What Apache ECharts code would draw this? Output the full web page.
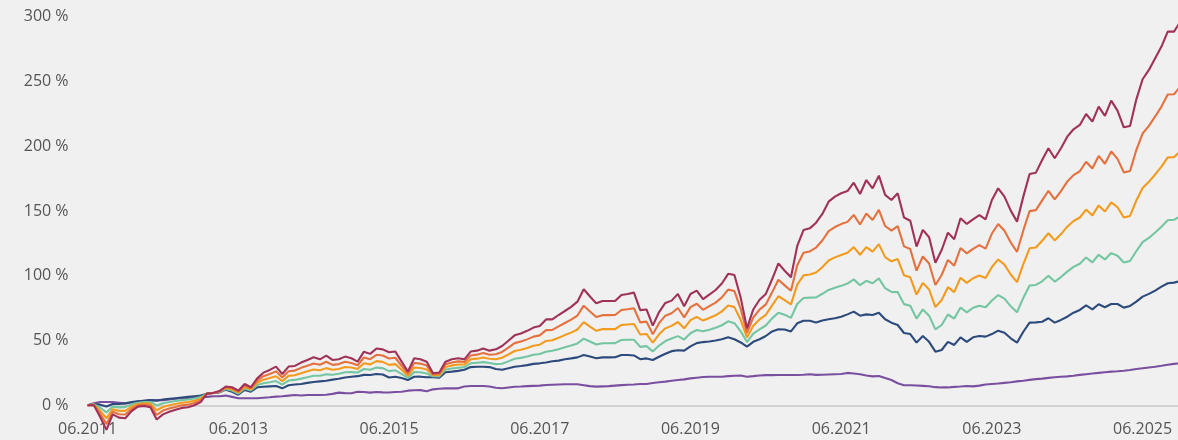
<!DOCTYPE html>
<html>
<head>
<meta charset="utf-8">
<script src="https://cdn.jsdelivr.net/npm/echarts@6/dist/echarts.min.js"></script>
<style>
html,body{margin:0;padding:0;background:#f0f0f0;}
#c{width:1178px;height:440px;}
</style>
</head>
<body>
<div id="c"></div>
<script>
// Month categories starting 06.2011 (monthly, 175 points)
const startYear = 2011, startMonth = 6, nMonths = 175;
const months = [];
for (let i = 0; i < nMonths; i++) {
  const m = (startMonth - 1 + i) % 12 + 1;
  const y = startYear + Math.floor((startMonth - 1 + i) / 12);
  months.push((m < 10 ? '0' : '') + m + '.' + y);
}
const yTicks = [0, 50, 100, 150, 200, 250, 300];

const seriesRed = [0,0,-9,-19,-7,-9.5,-10,-4.5,-1,-0.5,
-1.5,-11,-7,-5,-3.5,-2,-1.5,0,2.5,9,
9.5,11,14.5,13.9,11.3,16.4,13.9,20.8,25.2,27.3,
29.9,24.2,29.9,30.4,33,35,37.1,35.5,38.4,35,
35.5,37.6,36.3,33.7,41.4,39.7,43.9,43.2,40.9,41.5,
33.7,26,36.3,35.5,33.7,24.7,25.3,33.7,35.5,36.3,
35.5,41.5,42.2,43.9,42.2,43.2,45.8,49.8,54,55.5,
57.5,60,61.2,66.3,66.3,69.7,72.8,76,80,89.6,
84,78.7,80.5,80.5,80.5,85.2,85.9,87,73.5,74,
61.5,72,79,80.8,86,76.5,85.9,88.5,82,85.5,
89,94,101.5,100.6,83,59.4,74,81.5,86,97.3,
109.6,103.9,98.8,123,135.3,136.6,141,147.7,157.2,161.1,
163.7,165.4,171.9,163.1,173.9,167.5,177.3,162.4,158.5,163.7,
145,142.5,122.5,135.4,129.7,110.1,119.9,133.3,128.2,144.4,
140,143.6,146.9,143.6,158.5,167.5,161.1,150.3,141.8,161.1,
178.6,179.6,189.4,198.4,190.7,198.4,207.4,213.1,216.4,224.9,
219,230.6,223.4,235.2,227.5,214.6,215.6,236.2,251.7,258.9,
267.9,276.9,288.5,288.5,296];

const seriesOrangeRed = [0,0.3,-6.6,-14.5,-5,-6.9,-7.1,-2.8,0,0.5,
-0.1,-7.4,-4.1,-2.5,-1.3,0,0.5,1.8,3.8,9,
9.5,10.8,13.9,13.1,10.5,15.3,13.1,19.1,22.5,24.1,
26.2,21.4,26.3,26.8,28.9,30.6,32.3,31.3,33.6,31.2,
31.8,33.6,32.7,30.9,36.9,35.6,39,38.4,36.1,36.7,
30.5,24.4,32.7,32.2,30.7,23.9,24.3,31.7,33.1,33.9,
33.5,38.5,39.1,40.4,39,39.4,41.2,44.5,48,49.2,
50.9,53,54,58,58.2,60.9,63.5,66.1,69.3,76.9,
72.4,68.1,69.6,69.6,69.7,73.6,74.1,74.9,64,64.6,
54.9,63.4,69.2,71.1,75.1,67.9,75.8,78.4,73.7,76.5,
79.3,83.3,89.3,88.2,74.4,55.9,67.8,73.9,77.9,87.2,
96.9,92.6,88.4,108.1,117.8,118.8,121.8,127.2,134.5,137.6,
139.9,141.6,147,139.6,148,143.1,150.9,138.4,134.8,138.3,
122.7,120.6,104,114.9,109.5,92.9,100.6,112.2,107.8,121.4,
117.3,120.8,123.6,121,132.6,140,134.8,125.7,118.5,135,
149.9,150.7,158.2,165.6,159,165.3,172.7,177.7,180.7,188,
182.8,192.5,186.5,196,190.2,179.8,180.9,197.2,209.8,215.7,
223,230.6,239.9,240.1,246];

const seriesOrange = [0,0.5,-4.3,-10,-3,-4.3,-4.3,-1,1,1.5,
1.3,-3.8,-1.3,0,1,2,2.5,3.5,5,9,
9.5,10.5,13.3,12.2,9.8,14.1,12.2,17.4,19.8,21,
22.4,18.7,22.7,23.2,24.7,26.2,27.6,27,28.7,27.4,
28,29.6,29.2,28.1,32.5,31.6,34.1,33.5,31.2,31.8,
27.4,22.8,29.2,28.8,27.7,23.2,23.3,29.6,30.8,31.5,
31.5,35.5,36,36.9,35.9,35.6,36.7,39.2,41.9,42.9,
44.3,46,46.8,49.7,50.2,52.1,54.2,56.1,58.5,64.2,
60.8,57.5,58.8,58.8,58.8,62,62.4,62.8,54.6,55.1,
48.3,54.8,59.4,61.3,64.3,59.4,65.7,68.3,65.4,67.4,
69.5,72.5,77,75.8,65.8,52.4,61.5,66.3,69.8,77.2,
84.2,81.2,77.9,93.2,100.3,101,102.5,106.6,111.8,114.2,
116.1,117.8,122.1,116.2,122.1,118.6,124.4,114.4,111.2,112.9,
100.4,98.8,85.5,94.5,89.4,75.8,81.3,91.2,87.4,98.5,
94.5,98.1,100.2,98.3,106.8,112.6,108.6,101,95.1,109,
121.2,121.8,127,132.8,127.3,132.2,137.9,142.3,145,151.1,
146.6,154.3,149.6,156.7,152.9,145,146.2,158.1,167.8,172.5,
178.2,184.3,191.4,191.6,196];

const seriesGreen = [0,0.8,-1.9,-5.5,-1,-1.6,-1.4,0.8,2,2.5,
2.6,-0.1,1.6,2.5,3.3,4,4.5,5.3,6.3,9,
9.5,10.3,12.6,11.4,9,13,11.4,15.6,17,17.8,
18.7,15.9,19.1,19.6,20.6,21.7,22.8,22.8,23.9,23.6,
24.3,25.5,25.6,25.3,28,27.5,29.1,28.7,26.4,27,
24.2,21.1,25.6,25.5,24.6,22.4,22.3,27.6,28.4,29,
29.5,32.5,32.9,33.3,32.7,31.8,32.1,33.9,35.9,36.6,
37.6,39,39.6,41.3,42.1,43.3,44.8,46.2,47.8,51.5,
49.2,46.9,47.9,47.9,48,50.4,50.6,50.6,45.1,45.7,
41.6,46.1,49.6,51.6,53.4,50.8,55.6,58.1,57.1,58.4,
59.8,61.8,64.8,63.4,57.1,48.8,55.3,58.6,61.6,67.1,
71.4,69.9,67.5,78.2,82.8,83.1,83.3,86.1,89.1,90.7,
92.2,94,97.2,92.7,96.1,94.2,98,90.4,87.5,87.4,
78.1,76.9,66.9,74,69.2,58.6,62,70.1,67,75.5,
71.8,75.3,76.9,75.7,80.9,85.1,82.3,76.4,71.8,82.9,
92.5,92.9,95.7,100,95.5,99,103.2,106.9,109.3,114.1,
110.3,116.2,112.6,117.5,115.5,110.2,111.4,119.1,125.9,129.2,
133.4,137.9,142.8,143.2,146];

const seriesNavy = [0,1,0.5,-1,1,1,1.5,2.5,3,3.5,
4,3.5,4.5,5,5.5,6,6.5,7,7.5,9,
9.5,10,12,10.5,8.2,11.8,10.5,13.9,14.3,14.6,
14.9,13.1,15.5,16,16.4,17.3,18,18.5,19,19.8,
20.5,21.5,22,22.5,23.5,23.4,24.2,23.8,21.5,22.1,
21,19.5,22,22.1,21.6,21.6,21.3,25.5,26,26.6,
27.5,29.5,29.8,29.8,29.5,28,27.5,28.6,29.8,30.3,
31,32,32.4,33,34,34.5,35.5,36.2,37,38.8,
37.6,36.3,37,37,37.1,38.8,38.8,38.5,35.6,36.2,
35,37.5,39.8,41.8,42.5,42.2,45.5,48,48.8,49.3,
50,51,52.5,51,48.5,45.3,49,51,53.5,57,
58.7,58.5,57,63.3,65.3,65.3,64,65.5,66.4,67.2,
68.4,70.2,72.3,69.2,70.2,69.7,71.5,66.4,63.8,62,
55.8,55,48.4,53.5,49,41.4,42.7,49,46.6,52.5,
49,52.5,53.5,53,55,57.6,56,51.7,48.4,56.8,
63.8,64,64.5,67.2,63.8,65.9,68.4,71.5,73.6,77.2,
74.1,78,75.7,78.2,78.2,75.4,76.7,80,83.9,86,
88.5,91.6,94.2,94.7,96];

const seriesPurple = [0,1.5,2.5,2.5,2.5,2,1.5,2,3,3.5,
4,4,4,4.5,5,5.5,5.5,6,6.5,6.5,
7,7,7.5,6.5,5.5,5.4,5.4,5.4,5.8,6.2,
6.7,7,7.5,8,7.6,8,8,8,8.2,8.8,
9.8,9.4,9.3,10.5,10.3,9.8,10.3,10,9.9,10.3,
10.5,11.3,11.6,11.7,10.8,12.3,12.8,13.1,13.1,13.1,
14.5,14.9,14.9,14.9,14.5,13.6,13.2,13.8,14.3,14.5,
14.8,15,15.2,15.7,15.9,16.1,16.2,16.2,16.2,15.5,
14.8,14.4,14.6,14.8,15.2,15.6,15.9,16.1,16.4,16.5,
17.2,17.8,18.3,19,19.5,20,20.8,21.3,21.8,22,
22,22,22.5,22.8,23,22.1,22.5,23,23.3,23.3,
23.4,23.4,23.4,23.4,23.6,24,23.5,23.6,23.8,24,
24.2,25,24.6,24,23,22.3,22.6,21,19.5,17,
15.5,15.5,15.3,15,14.7,14,13.8,13.8,14.2,14.5,
14.9,14.6,15.2,16,16.4,16.8,17.3,17.8,18.5,19,
19.6,20.2,20.6,21.2,21.6,22,22.3,22.8,23.5,24,
24.5,25,25.5,26,26.3,26.7,27.3,28,28.6,29.2,
29.8,30.5,31.3,32,32.5];

const chart = echarts.init(document.getElementById('c'), null, {renderer: 'canvas'});

function line(name, data, color) {
  return {
    name: name, type: 'line', data: data, symbol: 'none', clip: false,
    lineStyle: {color: color, width: 2.1}, itemStyle: {color: color},
    emphasis: {disabled: true}
  };
}

chart.setOption({
  backgroundColor: '#f0f0f0',
  animation: false,
  textStyle: {fontFamily: 'Open Sans'},
  grid: {left: 87.6, right: -2.3, top: 16.7, bottom: 34.7, containLabel: false, outerBoundsMode: 'none'},
  xAxis: {
    type: 'category',
    data: months,
    boundaryGap: false,
    axisLine: {show: true, lineStyle: {color: '#c8c8c8', width: 1.5}},
    axisTick: {show: false},
    axisLabel: {
      interval: function (idx) { return idx % 24 === 0; },
      color: '#555555', fontSize: 16, fontFamily: 'Open Sans', margin: 16
    },
    splitLine: {show: false}
  },
  yAxis: {
    type: 'value',
    min: yTicks[0], max: yTicks[yTicks.length - 1], interval: 50,
    axisLine: {show: false},
    axisTick: {show: false},
    splitLine: {show: false},
    axisLabel: {formatter: '{value} %', color: '#555555', fontSize: 16, fontFamily: 'Open Sans', margin: 19}
  },
  series: [
    line('Purple', seriesPurple, '#7a4fa0'),
    line('Navy', seriesNavy, '#2c4a7c'),
    line('Green', seriesGreen, '#74c6a2'),
    line('Orange', seriesOrange, '#f39b1e'),
    line('OrangeRed', seriesOrangeRed, '#e5713f'),
    line('Red', seriesRed, '#a0325a')
  ]
});
</script>
</body>
</html>
